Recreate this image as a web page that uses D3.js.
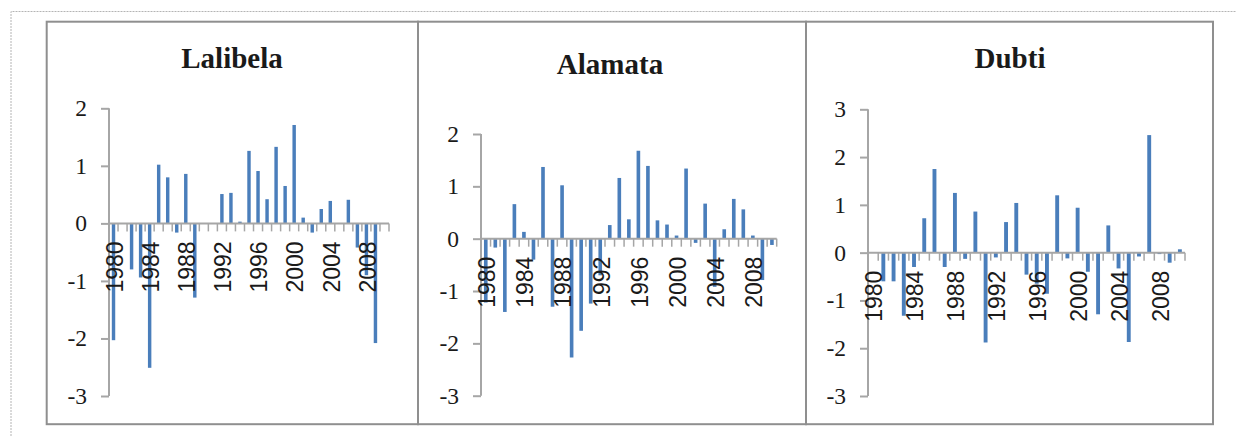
<!DOCTYPE html>
<html>
<head>
<meta charset="utf-8">
<script src="https://cdn.jsdelivr.net/npm/d3@7"></script>
<style>
  html, body { margin: 0; padding: 0; background: #fff; }
  svg { display: block; }
</style>
</head>
<body>
<svg id="chart" width="1236" height="436"></svg>
<script>
// Standardised annual anomalies, 1980–2010
const years = d3.range(1980, 2011);
const yearLabels = [1980, 1984, 1988, 1992, 1996, 2000, 2004, 2008];

const lalibela = [
  -2.03, 0, -0.80, -0.94, -2.51, 1.02, 0.80, -0.16, 0.86, -1.29,
  0, 0, 0.51, 0.53, 0.03, 1.26, 0.91, 0.42, 1.33, 0.65,
  1.71, 0.10, -0.16, 0.25, 0.39, 0, 0.41, -0.42, -0.90, -2.08,
  0
];
const alamata = [
  -1.22, -0.17, -1.40, 0.66, 0.13, -0.40, 1.37, -1.30, 1.02, -2.27,
  -1.76, -1.24, -0.70, 0.26, 1.16, 0.37, 1.68, 1.39, 0.35, 0.27,
  0.06, 1.34, -0.08, 0.67, -0.92, 0.18, 0.76, 0.56, 0.06, -0.79,
  -0.12
];
const dubti = [
  0, -0.60, -0.60, -1.32, -0.30, 0.72, 1.75, -0.30, 1.25, -0.13,
  0.86, -1.88, -0.10, 0.64, 1.04, -0.46, -0.65, -0.86, 1.20, -0.12,
  0.94, -0.40, -1.29, 0.57, -0.33, -1.87, -0.08, 2.46, -0.03, -0.21,
  0.07
];

const ticksLalibela = [-3, -2, -1, 0, 1, 2];
const ticksAlamata = [-3, -2, -1, 0, 1, 2];
const ticksDubti = [-3, -2, -1, 0, 1, 2, 3];

const svg = d3.select("#chart");
const barColor = "#4a7ebb";
const axisColor = "#a6a6a6";
const frameColor = "#8f8f8f";

// outer dotted frame
svg.append("path")
  .attr("d", "M11,436 L11,11.5 L1236,11.5")
  .attr("fill", "none")
  .attr("stroke", "#b4b4b4")
  .attr("stroke-width", 1)
  .attr("stroke-dasharray", "2,1");

const panels = [
  { title: "Lalibela", values: lalibela, ticks: ticksLalibela,
    box: [46.7, 418], titleX: 232, titleY: 68,
    x0: 109, x1: 389, yTop: 108.3, yBottom: 396 },
  { title: "Alamata", values: alamata, ticks: ticksAlamata,
    box: [418, 806], titleX: 610, titleY: 74,
    x0: 481, x1: 776.7, yTop: 134, yBottom: 395.7 },
  { title: "Dubti", values: dubti, ticks: ticksDubti,
    box: [806, 1213], titleX: 1010, titleY: 68,
    x0: 868, x1: 1185, yTop: 109.3, yBottom: 396 }
];

panels.forEach(p => {
  const g = svg.append("g");

  // panel frame
  g.append("rect")
    .attr("x", p.box[0]).attr("y", 21.7)
    .attr("width", p.box[1] - p.box[0]).attr("height", 402.5)
    .attr("fill", "none")
    .attr("stroke", frameColor)
    .attr("stroke-width", 2);

  // title
  g.append("text")
    .attr("x", p.titleX).attr("y", p.titleY)
    .attr("text-anchor", "middle")
    .attr("font-family", "'Liberation Serif', 'Times New Roman', serif")
    .attr("font-weight", "bold")
    .attr("font-size", 29)
    .attr("fill", "#1a1a1a")
    .text(p.title);

  const y = d3.scaleLinear()
    .domain(d3.extent(p.ticks))
    .range([p.yBottom, p.yTop]);

  const x = d3.scaleBand()
    .domain(years)
    .range([p.x0, p.x1])
    .paddingInner(0.62)
    .paddingOuter(0.31);

  const bandAll = d3.scaleBand().domain(years).range([p.x0, p.x1]);

  // bars
  g.append("g").selectAll("rect")
    .data(years.map((yr, i) => ({ yr, v: p.values[i] })))
    .join("rect")
    .attr("x", d => x(d.yr))
    .attr("width", x.bandwidth())
    .attr("y", d => y(Math.max(0, d.v)))
    .attr("height", d => Math.abs(y(d.v) - y(0)))
    .attr("fill", barColor);

  // y axis
  const yAxis = d3.axisLeft(y)
    .tickValues(p.ticks)
    .tickSize(8)
    .tickPadding(14)
    .tickFormat(d => d < 0 ? "-" + Math.abs(d) : String(d));
  const ya = g.append("g")
    .attr("transform", `translate(${p.x0},0)`)
    .call(yAxis);
  ya.select(".domain").attr("stroke", axisColor).attr("stroke-width", 2)
    .attr("d", `M0,${p.yTop}V${p.yBottom}`);
  ya.selectAll(".tick line").attr("stroke", axisColor).attr("stroke-width", 2);
  ya.selectAll(".tick text")
    .attr("font-family", "'Liberation Serif', 'Times New Roman', serif")
    .attr("font-size", 23.5)
    .attr("fill", "#1a1a1a");

  // x axis along zero line, ticks at category boundaries
  const zy = y(0);
  const xg = g.append("g");
  xg.append("line")
    .attr("x1", p.x0).attr("x2", p.x1)
    .attr("y1", zy).attr("y2", zy)
    .attr("stroke", axisColor).attr("stroke-width", 2);
  const bounds = years.map(yr => bandAll(yr)).concat([p.x1]);
  xg.selectAll("line.tk")
    .data(bounds.slice(1))
    .join("line")
    .attr("class", "tk")
    .attr("x1", d => d).attr("x2", d => d)
    .attr("y1", zy).attr("y2", zy + 8)
    .attr("stroke", axisColor).attr("stroke-width", 1.5);

  xg.selectAll("text")
    .data(yearLabels)
    .join("text")
    .attr("transform", d => `translate(${bandAll(d) + bandAll.bandwidth() / 2 + 1},${zy + 18}) rotate(-90)`)
    .attr("text-anchor", "end")
    .attr("dy", "0.36em")
    .attr("font-family", "'Liberation Sans', Arial, sans-serif")
    .attr("font-size", 23)
    .attr("fill", "#1a1a1a")
    .text(d => d);
});
</script>
</body>
</html>
